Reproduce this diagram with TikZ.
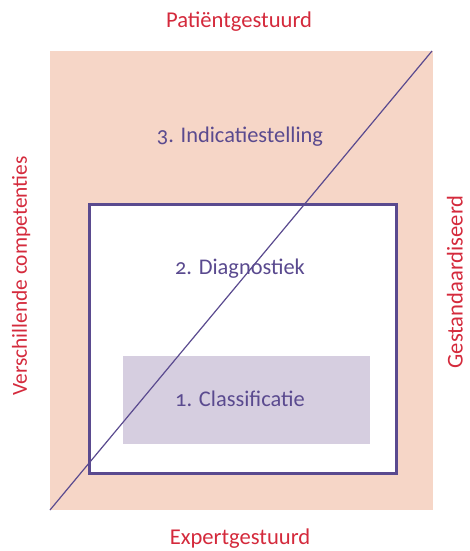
\documentclass[tikz,border=0pt]{standalone}
\usepackage{fontspec}
\setmainfont{Carlito}[Numbers=OldStyle]
\begin{document}
\begin{tikzpicture}[x=1pt,y=-1pt]
\definecolor{peach}{HTML}{F6D6C7}
\definecolor{purpleD}{HTML}{5A4A8F}
\definecolor{lav}{HTML}{D6CEE0}
\definecolor{redT}{HTML}{D42A3C}
\tikzset{
  outer/.style={text=redT, anchor=base, inner sep=0pt, font=\fontsize{22.6}{26}\selectfont},
  inner/.style={text=purpleD, anchor=base, inner sep=0pt, font=\fontsize{22.4}{26}\selectfont}}
\useasboundingbox (0,0) rectangle (469,551);
\fill[peach] (50,51) rectangle (433,510);
\fill[white] (89,204) rectangle (396,473);
\fill[lav] (123,356) rectangle (370,444);
\draw[purpleD, line width=3] (89,204) rectangle (396,473);
\coordinate (lb) at (50,510);
\coordinate (rt) at (432,51);
\draw[purpleD, line width=1.2] (lb) -- (rt);
\node[outer] (top) at (239,28) {Patiëntgestuurd};
\node[outer] (bot) at (240,544.5) {Expertgestuurd};
\node[outer, rotate=90, font=\fontsize{21.4}{26}\selectfont] (left) at (27,276) {Verschillende competenties};
\node[outer, rotate=90] (right) at (462.5,282) {Gestandaardiseerd};
\node[inner] (l3) at (240,142) {3. Indicatiestelling};
\node[inner] (l2) at (240,274) {2. Diagnostiek};
\node[inner] (l1) at (240,406) {1. Classificatie};
\end{tikzpicture}
\end{document}
